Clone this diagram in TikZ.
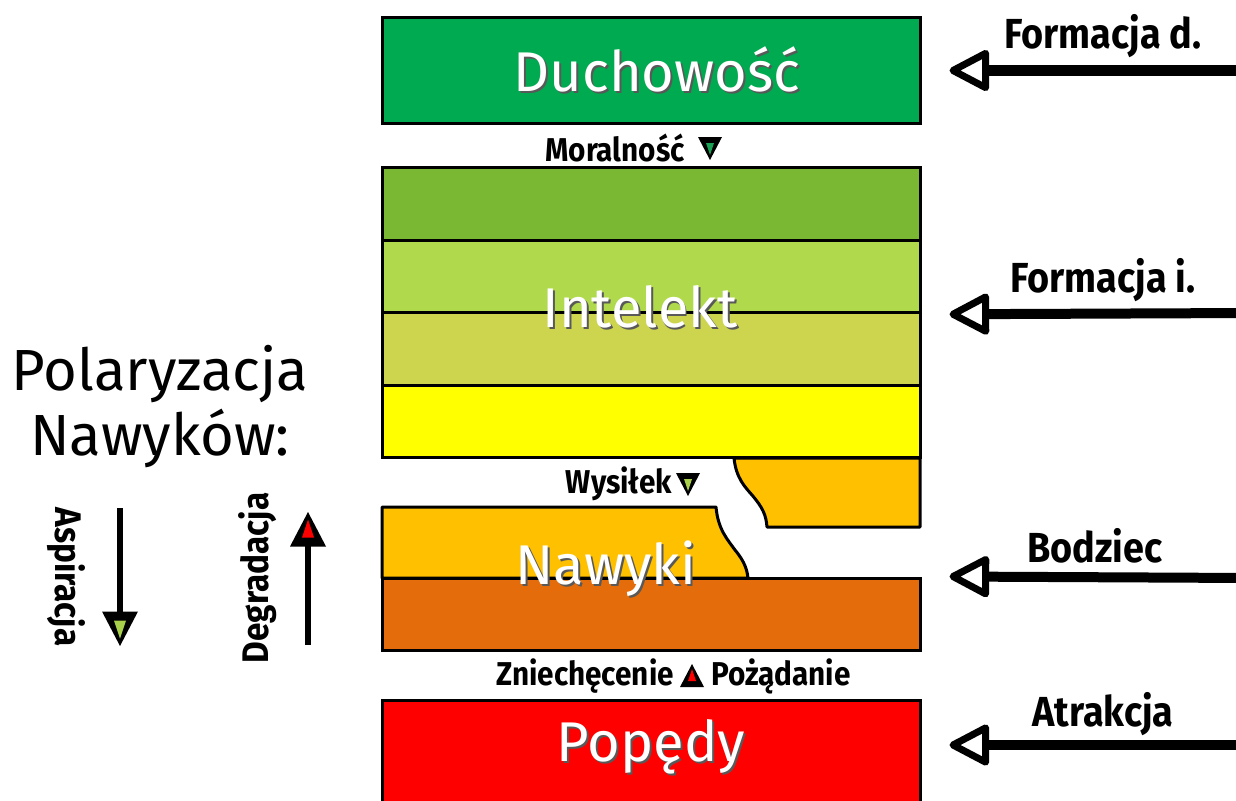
\documentclass[tikz,border=0pt]{standalone}
\usepackage{fontspec}
\setmainfont{Fira Sans}
\newfontfamily\condfont[FakeStretch=0.9]{Fira Sans}
\usetikzlibrary{arrows.meta}

\definecolor{duchgreen}{RGB}{0,170,80}
\definecolor{int1}{RGB}{122,184,51}
\definecolor{int2}{RGB}{176,217,76}
\definecolor{int3}{RGB}{205,213,79}
\definecolor{int4}{RGB}{255,255,0}
\definecolor{habitgold}{RGB}{255,192,0}
\definecolor{habitrust}{RGB}{228,108,10}
\definecolor{moralgreen}{RGB}{26,161,85}
\definecolor{effortgreen}{RGB}{168,208,74}

\newcommand\shadowed[1]{\rlap{\kern2pt\raisebox{-2pt}{\color{black!65}#1}}#1}

\tikzset{
  layer/.style={draw=black, line width=3pt, minimum width=538pt, inner sep=0pt},
  bigname/.style={text=white, inner sep=0pt, font=\fontsize{56}{56}\selectfont},
  tag/.style={inner sep=0pt, font=\condfont\bfseries\fontsize{33}{33}\selectfont},
  sidetag/.style={inner sep=0pt, font=\condfont\bfseries\fontsize{42}{42}\selectfont},
  pull/.style={line width=10pt, -{Triangle[open,round,length=44pt,width=44pt,line width=7pt]}},
  pics/downtri/.style={code={
    \fill[black] (-12,-11) -- (12,-11) -- (0,12) -- cycle;
    \fill[#1] (-4,-5) -- (4,-5) -- (0,7) -- cycle;}},
}

\begin{document}
\begin{tikzpicture}[x=1pt,y=-1pt]
\useasboundingbox (0,0) rectangle (1236,800);

% top box
\node[layer, fill=duchgreen, minimum height=105pt] (duch) at (651,70.5) {};
\node[bigname] (duchtxt) at (657,70) {\shadowed{Duchowość}};
\node[tag, anchor=east] (moral) at (685,148) {Moralność};
\pic at (710,148) {downtri=moralgreen};

% intellect bands
\foreach \c/\y [count=\i] in {int1/204,int2/276.5,int3/349,int4/421.5}
  \node[layer, fill=\c, minimum height=72.5pt] (band\i) at (651,\y) {};
\node[bigname] (inttxt) at (640,308) {\shadowed{Intelekt}};

% notch
\filldraw[fill=habitgold, line width=3pt, line join=round] (920,458) -- (734,458)
  .. controls (736,478) and (745,487) .. (752,495)
  .. controls (763,508) and (766,515) .. (767,527) -- (920,527) -- cycle;
\node[tag, anchor=east] (wysil) at (672,484) {Wysiłek};
\pic at (688,484) {downtri=effortgreen};

% habits
\filldraw[fill=habitgold, line width=3pt, line join=round] (382,578) -- (382,507) -- (716,507)
  .. controls (718,530) and (728,540) .. (735,550)
  .. controls (745,562) and (747,570) .. (748,578) -- cycle;
\node[layer, fill=habitrust, minimum height=72pt] (nawlow) at (651,614) {};
\node[bigname] (nawtxt) at (606,570) {\shadowed{Nawyki}};

\node[tag, anchor=east] (zniech) at (674,676) {Zniechęcenie};
\pic[rotate=180] at (692,676) {downtri=red};
\node[tag, anchor=west] (pozad) at (711,676) {Pożądanie};

% drives
\node[layer, fill=red, minimum height=103pt] (pop) at (651,751.5) {};
\node[bigname] (poptxt) at (651,748) {\shadowed{Popędy}};

% right side
\node[sidetag] (fd) at (1103,36) {Formacja d.};
\node[sidetag] (fi) at (1103,280) {Formacja i.};
\node[sidetag] (bodz) at (1095,546) {Bodziec};
\node[sidetag] (atr) at (1103,714) {Atrakcja};
\coordinate (fdsrc) at (1250,70.5);
\coordinate (fisrc) at (1250,313);
\coordinate (bodzsrc) at (1250,578);
\coordinate (atrsrc) at (1250,745);
\draw[pull] (fdsrc) -- ([xshift=28pt]duch.east);
\draw[pull] (fisrc) -- ([xshift=28pt]band2.south east);
\draw[pull] (bodzsrc) -- ([xshift=28pt]nawlow.north east);
\draw[pull] (atrsrc) -- ([xshift=28pt,yshift=6.5pt]pop.east);

% left side
\node[align=center, inner sep=0pt, font=\fontsize{58}{65}\selectfont] (polar) at (160,407) {Polaryzacja\\Nawyków:};
\node[tag, rotate=-90, font=\condfont\bfseries\fontsize{37}{37}\selectfont] (aspir) at (66,577) {Aspiracja};
\node[tag, rotate=90, font=\condfont\bfseries\fontsize{37}{37}\selectfont] (degr) at (258,578) {Degradacja};
\coordinate (asptop) at (120,508);
\coordinate (aspend) at (120,615);
\draw[line width=6pt] (asptop) -- (aspend);
\pic[scale=1.5] at (120,628) {downtri=effortgreen};
\coordinate (degbot) at (308,645);
\coordinate (degend) at (308,542);
\draw[line width=6pt] (degbot) -- (degend);
\pic[scale=1.5, rotate=180] at (308,530) {downtri=red};
\end{tikzpicture}
\end{document}
